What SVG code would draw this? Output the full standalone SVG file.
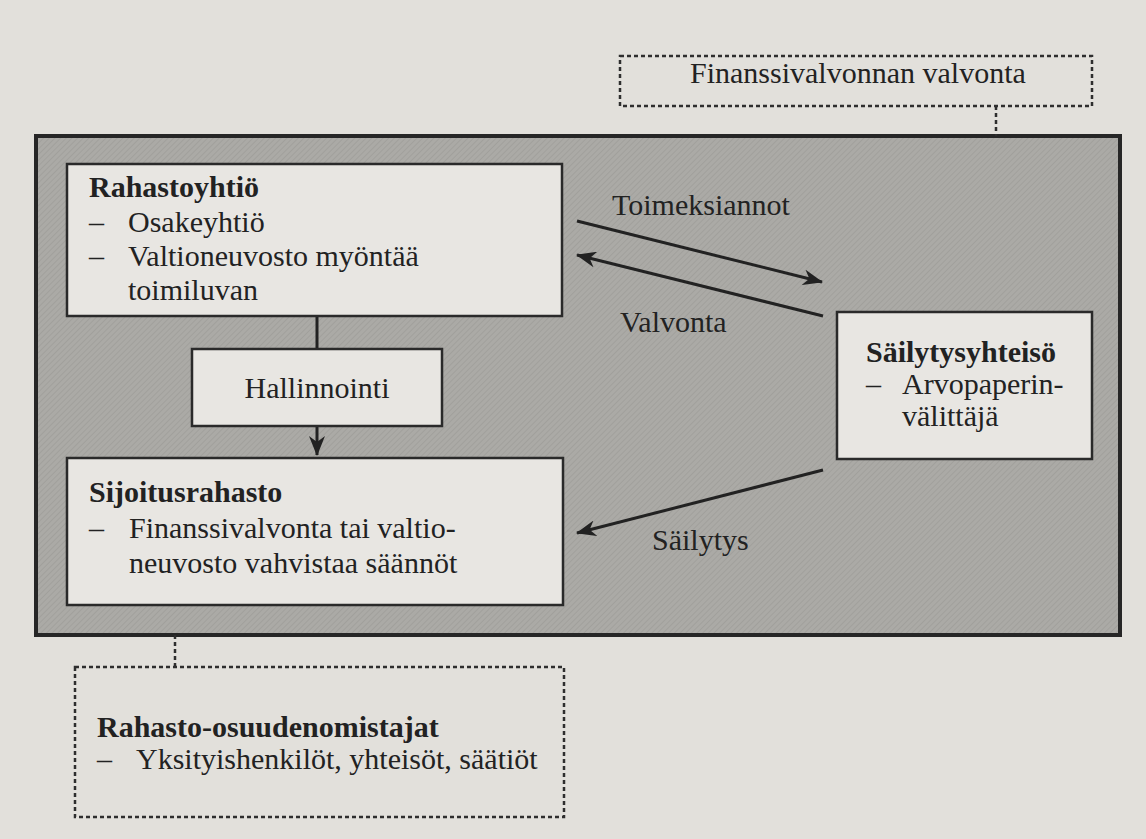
<svg xmlns="http://www.w3.org/2000/svg" width="1146" height="839" viewBox="0 0 1146 839">
  <defs>
    <pattern id="hatch" patternUnits="userSpaceOnUse" width="4" height="4" patternTransform="rotate(45)">
      <rect width="4" height="4" fill="#abaaa6"/>
      <line x1="0" y1="0" x2="0" y2="4" stroke="#9b9a96" stroke-width="1.3"/>
    </pattern>
    <marker id="arr" markerUnits="userSpaceOnUse" markerWidth="22" markerHeight="16" refX="19" refY="8" orient="auto">
      <path d="M0,0 L20,8 L0,16 L6,8 Z" fill="#222"/>
    </marker>
  </defs>
  <style>
    .t { font-family: "Liberation Serif", "DejaVu Serif", serif; font-size: 30px; fill: #222; }
    .b { font-weight: bold; }
    .box { fill: #e8e6e2; stroke: #2a2a2a; stroke-width: 2.5; }
    .dot { fill: none; stroke: #2e2e2e; stroke-width: 2.5; stroke-dasharray: 4 3; }
    .ln { fill: none; stroke: #222; stroke-width: 3; }
  </style>
  <rect width="1146" height="839" fill="#e2e0db"/>

  <g id="main-frame">
    <rect x="36" y="136" width="1084" height="499" fill="url(#hatch)" stroke="#262626" stroke-width="4"/>
  </g>

  <g id="connectors">
    <line class="dot" x1="996" y1="106" x2="996" y2="136"/>
    <line class="dot" x1="175" y1="635" x2="175" y2="667"/>
    <line class="ln" x1="317" y1="316" x2="317" y2="349"/>
    <line class="ln" x1="317" y1="426" x2="317" y2="455" marker-end="url(#arr)"/>
    <line class="ln" x1="577" y1="221" x2="822" y2="282" marker-end="url(#arr)"/>
    <line class="ln" x1="823" y1="316" x2="577" y2="255" marker-end="url(#arr)"/>
    <line class="ln" x1="823" y1="470" x2="577" y2="533" marker-end="url(#arr)"/>
    <text class="t" x="612" y="215">Toimeksiannot</text>
    <text class="t" x="620" y="332">Valvonta</text>
    <text class="t" x="652" y="550">Säilytys</text>
  </g>

  <g id="finanssivalvonta">
    <rect class="dot" x="620" y="56" width="472" height="50"/>
    <text class="t" x="690" y="83">Finanssivalvonnan valvonta</text>
  </g>

  <g id="rahastoyhtio">
    <rect class="box" x="67" y="164" width="495" height="152"/>
    <text class="t b" x="89" y="197">Rahastoyhtiö</text>
    <text class="t" x="89" y="232">–</text>
    <text class="t" x="128" y="232">Osakeyhtiö</text>
    <text class="t" x="89" y="266">–</text>
    <text class="t" x="128" y="266">Valtioneuvosto myöntää</text>
    <text class="t" x="128" y="300">toimiluvan</text>
  </g>

  <g id="hallinnointi">
    <rect class="box" x="192" y="349" width="250" height="77"/>
    <text class="t" x="317" y="398" text-anchor="middle">Hallinnointi</text>
  </g>

  <g id="sijoitusrahasto">
    <rect class="box" x="67" y="458" width="496" height="147"/>
    <text class="t b" x="89" y="502">Sijoitusrahasto</text>
    <text class="t" x="89" y="538">–</text>
    <text class="t" x="129" y="538">Finanssivalvonta tai valtio-</text>
    <text class="t" x="129" y="573">neuvosto vahvistaa säännöt</text>
  </g>

  <g id="sailytysyhteiso">
    <rect class="box" x="837" y="312" width="255" height="147"/>
    <text class="t b" x="866" y="362">Säilytysyhteisö</text>
    <text class="t" x="866" y="394">–</text>
    <text class="t" x="902" y="394">Arvopaperin-</text>
    <text class="t" x="902" y="426">välittäjä</text>
  </g>

  <g id="osuudenomistajat">
    <rect class="dot" x="75" y="667" width="489" height="150"/>
    <text class="t b" x="97" y="737">Rahasto-osuudenomistajat</text>
    <text class="t" x="97" y="769">–</text>
    <text class="t" x="136" y="769">Yksityishenkilöt, yhteisöt, säätiöt</text>
  </g>
</svg>
